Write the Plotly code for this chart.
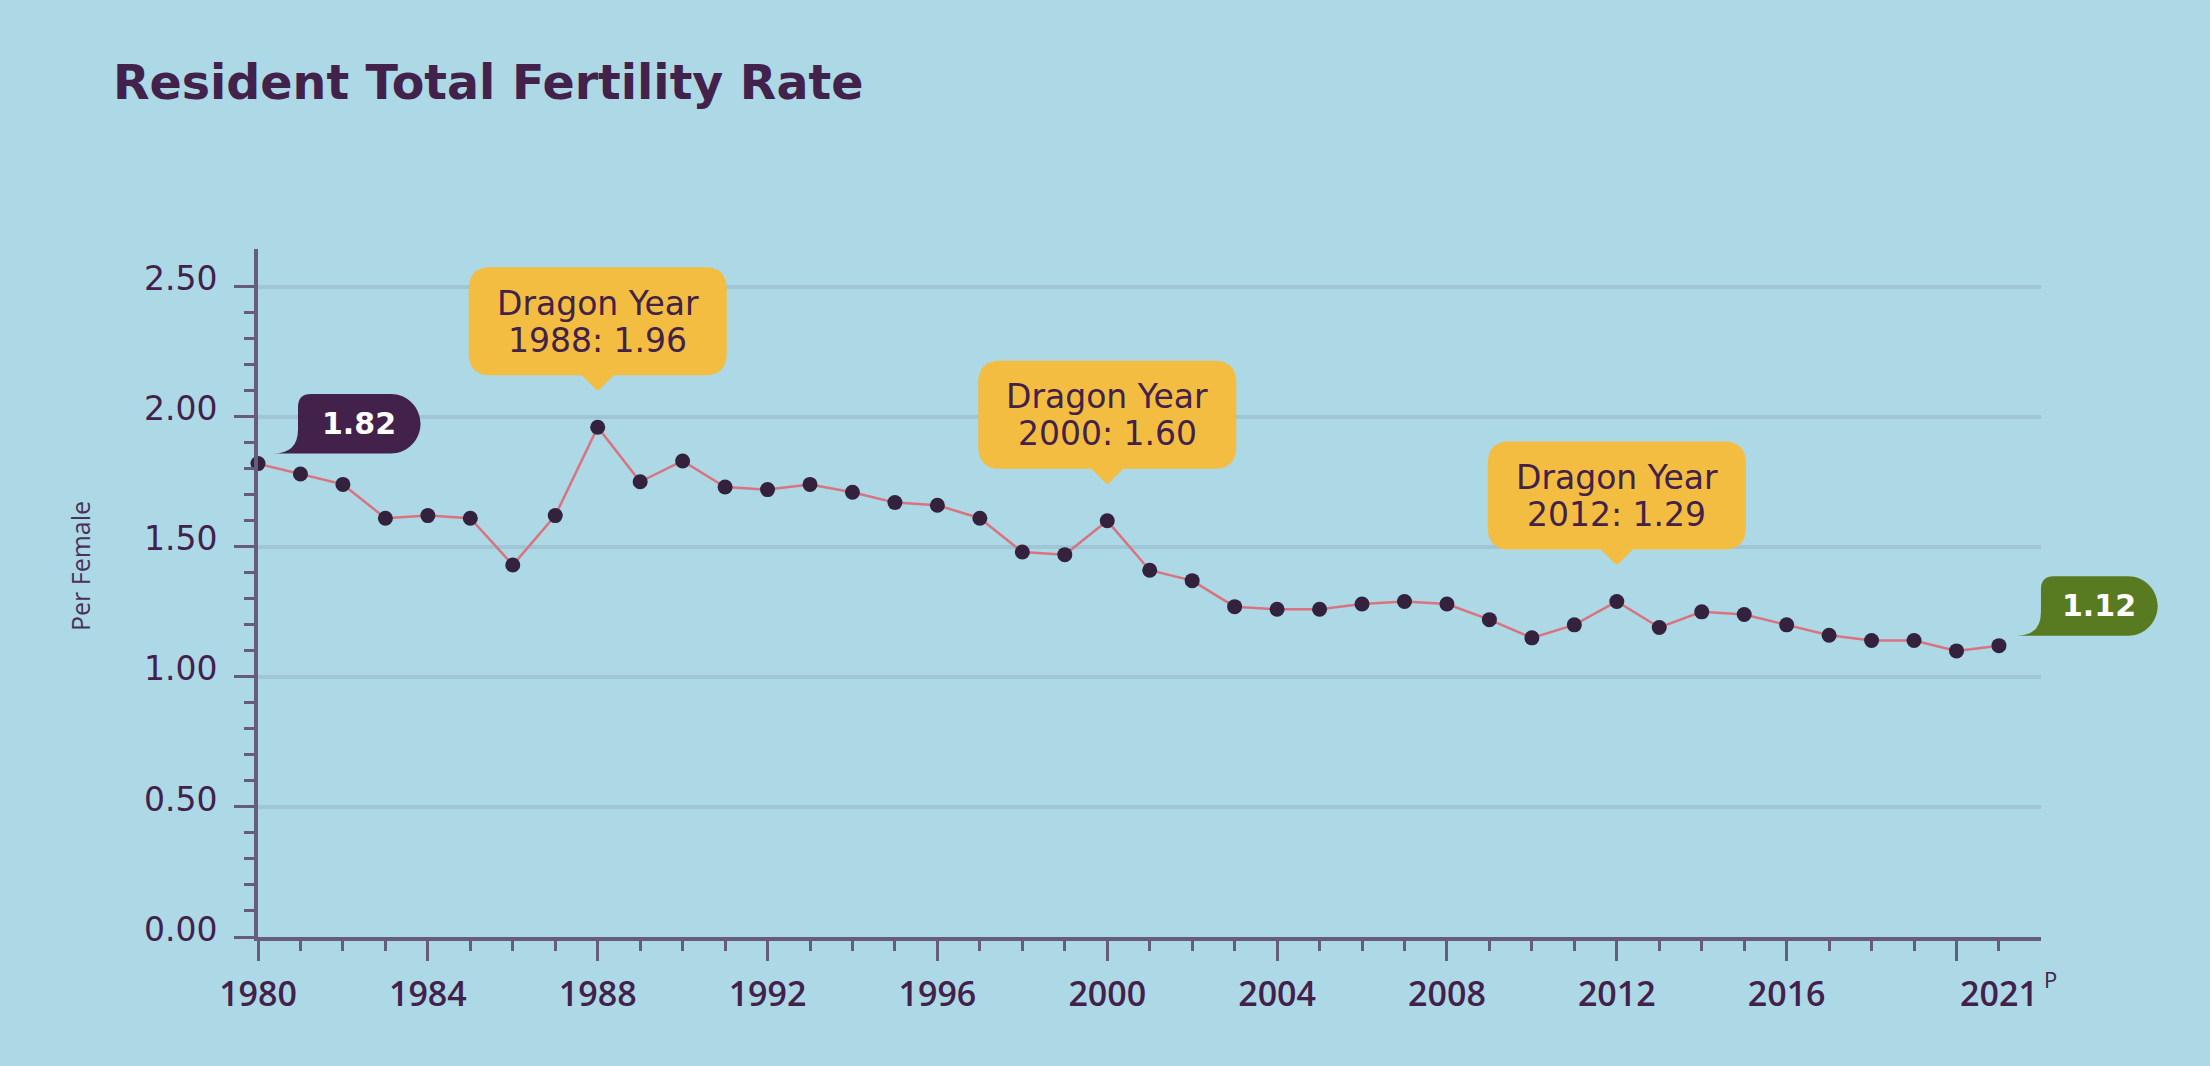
import plotly.graph_objects as go
import numpy as np

# ---------------- data ----------------
years = list(range(1980, 2022))
tfr = [1.82, 1.78, 1.74, 1.61, 1.62, 1.61, 1.43, 1.62, 1.96, 1.75,
       1.83, 1.73, 1.72, 1.74, 1.71, 1.67, 1.66, 1.61, 1.48, 1.47,
       1.60, 1.41, 1.37, 1.27, 1.26, 1.26, 1.28, 1.29, 1.28, 1.22,
       1.15, 1.20, 1.29, 1.19, 1.25, 1.24, 1.20, 1.16, 1.14, 1.14,
       1.10, 1.12]
dragon_years = [1988, 2000, 2012]
x_major_ticks = list(range(1980, 2021, 4))
x_label_vals = [1980, 1984, 1988, 1992, 1996, 2000, 2004, 2008, 2012, 2016, 2021]
x_label_text = ["1980", "1984", "1988", "1992", "1996", "2000", "2004", "2008", "2012", "2016", "2021"]
y_tick_vals = [0, 0.5, 1.0, 1.5, 2.0, 2.5]
y_tick_text = ["0.00", "0.50", "1.00", "1.50", "2.00", "2.50"]
title_text = "Resident Total Fertility Rate"
y_title = "Per Female"
provisional_mark = "P"

# ---------------- style / geometry ----------------
W, H = 2210, 1066
ML, MR, MT, MB = 258, 169, 249, 129
BG = "#add8e6"
PURPLE = "#42214a"
AXIS = "#675c7a"
GRID = "#a0c5d5"
LINE = "#d9737f"
MARK = "#33213d"
YELLOW = "#f2bd41"
GREEN = "#587a20"

X_RANGE = [years[0], years[-1] + 0.99]
Y_RANGE = [0, 2.645]


def xpaper(v):
    return (v - X_RANGE[0]) / (X_RANGE[1] - X_RANGE[0])


def ypaper(v):
    return (v - Y_RANGE[0]) / (Y_RANGE[1] - Y_RANGE[0])


def dragon_path(hw=129, bot=52, top=160, r=22, pw=16, tip=36):
    return (f"M {-hw + r} {bot} L {-pw} {bot} L -2 {tip + 2} Q 0 {tip} 2 {tip + 2} L {pw} {bot} "
            f"L {hw - r} {bot} Q {hw} {bot} {hw} {bot + r} L {hw} {top - r} Q {hw} {top} {hw - r} {top} "
            f"L {-hw + r} {top} Q {-hw} {top} {-hw} {top - r} L {-hw} {bot + r} Q {-hw} {bot} {-hw + r} {bot} Z")


def bubble_path(tipx, left, right, bot, top, rc=13):
    rr = (top - bot) / 2
    cx = right - rr
    k = 0.5523 * rr
    cy = bot + rr
    return (f"M {tipx} {bot} L {cx} {bot} C {cx + k} {bot} {right} {cy - k} {right} {cy} "
            f"C {right} {cy + k} {cx + k} {top} {cx} {top} L {left + rc} {top} Q {left} {top} {left} {top - rc} "
            f"L {left} {bot + 24} Q {left} {bot} {tipx} {bot} Z")


fig = go.Figure()

fig.add_trace(go.Scatter(
    x=years, y=tfr, mode="lines+markers",
    line=dict(color=LINE, width=2.5),
    marker=dict(color=MARK, size=15),
    cliponaxis=False, hoverinfo="x+y", showlegend=False,
))
# invisible trace to activate label axis
fig.add_trace(go.Scatter(x=[years[0]], y=[tfr[0]], xaxis="x2", mode="markers",
                         marker=dict(opacity=0), hoverinfo="skip", showlegend=False))

shapes = []
annotations = []

# dragon year callouts
for yr in dragon_years:
    v = tfr[years.index(yr)]
    shapes.append(dict(type="path", xref="paper", yref="paper",
                       xsizemode="pixel", ysizemode="pixel",
                       xanchor=xpaper(yr), yanchor=ypaper(v),
                       path=dragon_path(), fillcolor=YELLOW, line=dict(width=0), layer="above"))
    annotations.append(dict(x=yr, y=v, xref="x", yref="y", text="Dragon Year",
                            showarrow=False, yshift=124, xanchor="center", yanchor="middle",
                            font=dict(family="DejaVu Sans", size=33, color=PURPLE)))
    annotations.append(dict(x=yr, y=v, xref="x", yref="y", text=f"{yr}: {v:.2f}",
                            showarrow=False, yshift=87, xanchor="center", yanchor="middle",
                            font=dict(family="DejaVu Sans", size=33, color=PURPLE)))

# first / last value bubbles
ends = [(0, PURPLE, 15, 40, 162.5), (-1, GREEN, 18, 42, 158.7)]
for idx, col, tipx, left, right in ends:
    yr, v = years[idx], tfr[idx]
    shapes.append(dict(type="path", xref="paper", yref="paper",
                       xsizemode="pixel", ysizemode="pixel",
                       xanchor=xpaper(yr), yanchor=ypaper(v),
                       path=bubble_path(tipx, left, right, 10, 69.5), fillcolor=col,
                       line=dict(width=0), layer="above"))
    annotations.append(dict(x=yr, y=v, xref="x", yref="y", text=f"<b>{v:.2f}</b>",
                            showarrow=False, xshift=(left + right) / 2, yshift=40,
                            xanchor="center", yanchor="middle",
                            font=dict(family="DejaVu Sans", size=30, color="white")))

# provisional superscript
annotations.append(dict(x=years[-1], y=0, xref="x", yref="y", text=provisional_mark,
                        showarrow=False, xshift=43, yshift=-42, xanchor="left", yanchor="middle",
                        font=dict(family="Open Sans", size=22, color=PURPLE)))

# y-axis title
annotations.append(dict(x=(80 - ML) / (W - ML - MR), y=(H - MB - 566) / (H - MT - MB),
                        xref="paper", yref="paper", text=y_title, textangle=-90,
                        showarrow=False, xanchor="center", yanchor="middle",
                        font=dict(family="Open Sans", size=25, color="#4b3157")))

fig.update_layout(
    width=W, height=H, autosize=False,
    margin=dict(l=ML, r=MR, t=MT, b=MB, pad=0),
    paper_bgcolor=BG, plot_bgcolor=BG,
    title=dict(text=f"<b>{title_text}</b>", xref="container", yref="container",
               x=113 / W, xanchor="left", y=1 - 82 / H, yanchor="middle",
               font=dict(family="DejaVu Sans", size=47.5, color=PURPLE)),
    xaxis=dict(range=X_RANGE, showgrid=False, zeroline=False,
               showline=True, linecolor=AXIS, linewidth=4,
               tickmode="array", tickvals=x_major_ticks, showticklabels=False,
               ticks="outside", ticklen=20, tickwidth=3, tickcolor=AXIS,
               minor=dict(tickmode="array", tickvals=years, ticks="outside",
                          ticklen=10, tickwidth=3, tickcolor=AXIS, showgrid=False)),
    xaxis2=dict(range=X_RANGE, overlaying="x", anchor="y", side="bottom",
                showgrid=False, zeroline=False, showline=False,
                tickmode="array", tickvals=x_label_vals, ticktext=x_label_text,
                ticks="outside", ticklen=27, tickcolor="rgba(0,0,0,0)",
                tickfont=dict(family="Open Sans", size=34, color=PURPLE, weight=600)),
    yaxis=dict(range=Y_RANGE, zeroline=False,
               showgrid=True, gridcolor=GRID, gridwidth=4,
               showline=True, linecolor=AXIS, linewidth=4,
               tickmode="array", tickvals=y_tick_vals, ticktext=y_tick_text,
               ticks="outside", ticklen=20, tickwidth=3, tickcolor=AXIS,
               ticklabelstandoff=10, ticklabelshift=-8,
               tickfont=dict(family="DejaVu Sans", size=33, color=PURPLE),
               minor=dict(tickmode="array", tickvals=[round(v, 1) for v in np.arange(0, 2.55, 0.1)],
                          ticks="outside", ticklen=10, tickwidth=3, tickcolor=AXIS, showgrid=False)),
    shapes=shapes,
    annotations=annotations,
    showlegend=False,
)

fig.write_html("out.html", config={"displayModeBar": False},
               post_script="document.body.style.margin='0';document.body.style.overflow='hidden';")
